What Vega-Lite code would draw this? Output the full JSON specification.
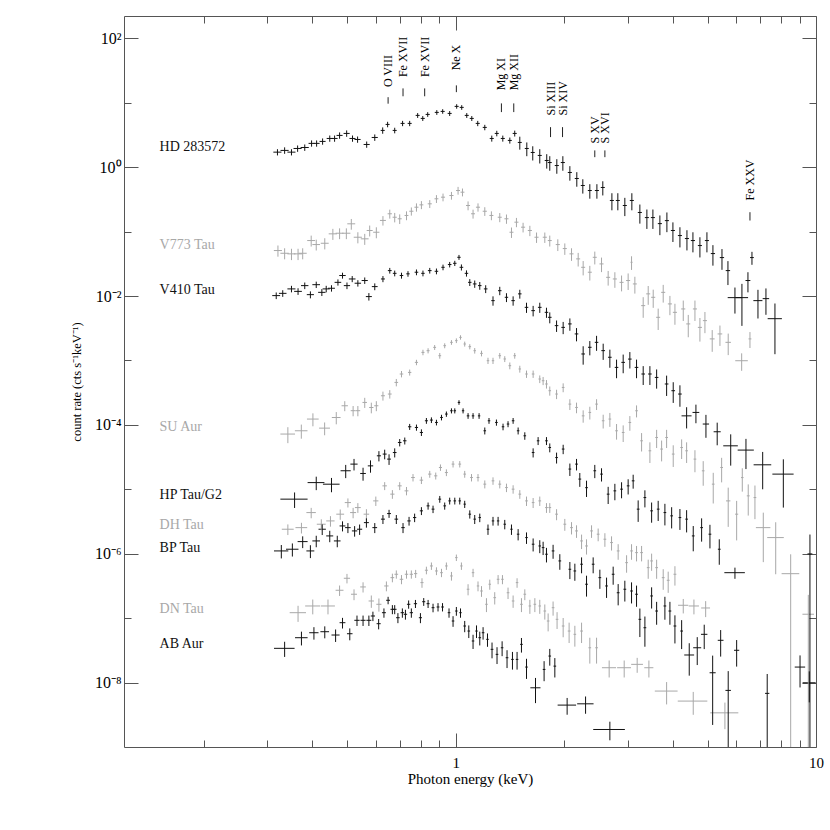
{
"$schema":"https://vega.github.io/schema/vega-lite/v6.json",
"width":692,"height":731,"autosize":"none",
"padding":{"left":124,"top":16,"right":14,"bottom":83},
"background":"white",
"config":{"view":{"stroke":null},
"axis":{"grid":false,"domainColor":"#555","tickColor":"#555","domainWidth":1,"tickWidth":1,"labelFont":"Liberation Serif","titleFont":"Liberation Serif","labelFontSize":15,"titleFontSize":15,"titleFontWeight":"normal","labelColor":"#000","titleColor":"#000","labelFlush":false,"labelOverlap":false,"labelBound":false},
"text":{"font":"Liberation Serif"}},
"datasets":{
"pts":[
{"s":"a","x":0.32,"y":1.71,"dx":0.0083,"dy":0.19},
{"s":"a","x":0.335,"y":1.82,"dx":0.0087,"dy":0.21},
{"s":"a","x":0.35,"y":1.71,"dx":0.009,"dy":0.19},
{"s":"a","x":0.364,"y":1.95,"dx":0.0094,"dy":0.22},
{"s":"a","x":0.381,"y":2.02,"dx":0.0099,"dy":0.23},
{"s":"a","x":0.398,"y":2.34,"dx":0.0077,"dy":0.26},
{"s":"a","x":0.411,"y":2.34,"dx":0.008,"dy":0.26},
{"s":"a","x":0.427,"y":2.51,"dx":0.0083,"dy":0.28},
{"s":"a","x":0.447,"y":2.79,"dx":0.0087,"dy":0.31},
{"s":"a","x":0.461,"y":2.79,"dx":0.009,"dy":0.31},
{"s":"a","x":0.476,"y":3.11,"dx":0.0092,"dy":0.35},
{"s":"a","x":0.498,"y":3.34,"dx":0.0097,"dy":0.38},
{"s":"a","x":0.517,"y":2.79,"dx":0.01,"dy":0.31},
{"s":"a","x":0.534,"y":2.69,"dx":0.0104,"dy":0.3},
{"s":"a","x":0.566,"y":2.25,"dx":0.011,"dy":0.25},
{"s":"a","x":0.596,"y":2.89,"dx":0.0116,"dy":0.33},
{"s":"a","x":0.627,"y":3.72,"dx":0.0081,"dy":0.42},
{"s":"a","x":0.647,"y":4.61,"dx":0.0083,"dy":0.45},
{"s":"a","x":0.677,"y":3.72,"dx":0.0087,"dy":0.37},
{"s":"a","x":0.712,"y":4.78,"dx":0.0092,"dy":0.45},
{"s":"a","x":0.745,"y":4.78,"dx":0.0096,"dy":0.45},
{"s":"a","x":0.784,"y":6.36,"dx":0.01,"dy":0.55},
{"s":"a","x":0.81,"y":5.71,"dx":0.0105,"dy":0.5},
{"s":"a","x":0.836,"y":6.59,"dx":0.011,"dy":0.55},
{"s":"a","x":0.886,"y":7.08,"dx":0.0114,"dy":0.6},
{"s":"a","x":0.92,"y":7.34,"dx":0.012,"dy":0.6},
{"s":"a","x":0.962,"y":6.83,"dx":0.0124,"dy":0.6},
{"s":"a","x":1.006,"y":8.78,"dx":0.013,"dy":0.7},
{"s":"a","x":1.039,"y":8.47,"dx":0.0134,"dy":0.7},
{"s":"a","x":1.073,"y":6.36,"dx":0.0138,"dy":0.55},
{"s":"a","x":1.108,"y":5.71,"dx":0.0143,"dy":0.5},
{"s":"a","x":1.151,"y":4.78,"dx":0.0148,"dy":0.45},
{"s":"a","x":1.204,"y":4.14,"dx":0.0155,"dy":0.4},
{"s":"a","x":1.259,"y":2.79,"dx":0.0162,"dy":0.3},
{"s":"a","x":1.3,"y":3.34,"dx":0.0168,"dy":0.33},
{"s":"a","x":1.351,"y":2.79,"dx":0.0174,"dy":0.3},
{"s":"a","x":1.413,"y":2.6,"dx":0.018,"dy":0.28},
{"s":"a","x":1.458,"y":3.34,"dx":0.019,"dy":0.35},
{"s":"a","x":1.506,"y":2.42,"dx":0.019,"dy":0.55},
{"s":"a","x":1.575,"y":1.95,"dx":0.02,"dy":0.47},
{"s":"a","x":1.636,"y":1.69,"dx":0.021,"dy":0.42},
{"s":"a","x":1.711,"y":1.52,"dx":0.022,"dy":0.38},
{"s":"a","x":1.789,"y":1.27,"dx":0.023,"dy":0.32},
{"s":"a","x":1.824,"y":1.18,"dx":0.023,"dy":0.3},
{"s":"a","x":1.908,"y":1.06,"dx":0.025,"dy":0.27},
{"s":"a","x":1.983,"y":1.18,"dx":0.026,"dy":0.3},
{"s":"a","x":2.074,"y":0.827,"dx":0.027,"dy":0.21},
{"s":"a","x":2.168,"y":0.667,"dx":0.028,"dy":0.17},
{"s":"a","x":2.253,"y":0.519,"dx":0.029,"dy":0.13},
{"s":"a","x":2.356,"y":0.434,"dx":0.03,"dy":0.11},
{"s":"a","x":2.465,"y":0.434,"dx":0.032,"dy":0.11},
{"s":"a","x":2.56,"y":0.484,"dx":0.033,"dy":0.12},
{"s":"a","x":2.713,"y":0.304,"dx":0.035,"dy":0.09},
{"s":"a","x":2.818,"y":0.304,"dx":0.036,"dy":0.09},
{"s":"a","x":2.947,"y":0.254,"dx":0.038,"dy":0.08},
{"s":"a","x":3.082,"y":0.304,"dx":0.04,"dy":0.09},
{"s":"a","x":3.244,"y":0.198,"dx":0.042,"dy":0.065},
{"s":"a","x":3.393,"y":0.165,"dx":0.044,"dy":0.055},
{"s":"a","x":3.526,"y":0.165,"dx":0.046,"dy":0.055},
{"s":"a","x":3.687,"y":0.133,"dx":0.048,"dy":0.045},
{"s":"a","x":3.856,"y":0.148,"dx":0.05,"dy":0.05},
{"s":"a","x":4.007,"y":0.104,"dx":0.052,"dy":0.035},
{"s":"a","x":4.191,"y":0.0868,"dx":0.054,"dy":0.03},
{"s":"a","x":4.383,"y":0.078,"dx":0.057,"dy":0.027},
{"s":"a","x":4.554,"y":0.0726,"dx":0.06,"dy":0.025},
{"s":"a","x":4.762,"y":0.0607,"dx":0.062,"dy":0.021},
{"s":"a","x":4.98,"y":0.0726,"dx":0.065,"dy":0.025},
{"s":"a","x":5.175,"y":0.0456,"dx":0.07,"dy":0.016},
{"s":"a","x":5.483,"y":0.0395,"dx":0.075,"dy":0.014},
{"s":"a","x":5.696,"y":0.0248,"dx":0.08,"dy":0.01},
{"s":"a","x":5.957,"y":0.00944,"dx":0.27,"dy":0.0041},
{"s":"a","x":6.229,"y":0.00944,"dx":0.25,"dy":0.006},
{"s":"a","x":6.473,"y":0.0174,"dx":0.1,"dy":0.006},
{"s":"a","x":6.641,"y":0.0395,"dx":0.08,"dy":0.009},
{"s":"a","x":6.901,"y":0.00848,"dx":0.2,"dy":0.004},
{"s":"a","x":7.262,"y":0.00911,"dx":0.15,"dy":0.004},
{"s":"a","x":7.692,"y":0.00445,"dx":0.35,"dy":0.0032},
{"s":"b","x":0.321,"y":0.0508,"dx":0.0083,"dy":0.01},
{"s":"b","x":0.335,"y":0.0461,"dx":0.009,"dy":0.009},
{"s":"b","x":0.35,"y":0.0451,"dx":0.009,"dy":0.009},
{"s":"b","x":0.365,"y":0.0451,"dx":0.0095,"dy":0.009},
{"s":"b","x":0.376,"y":0.0461,"dx":0.0098,"dy":0.009},
{"s":"b","x":0.397,"y":0.0726,"dx":0.01,"dy":0.014},
{"s":"b","x":0.41,"y":0.0629,"dx":0.01,"dy":0.012},
{"s":"b","x":0.433,"y":0.0659,"dx":0.011,"dy":0.013},
{"s":"b","x":0.456,"y":0.0923,"dx":0.012,"dy":0.018},
{"s":"b","x":0.476,"y":0.0943,"dx":0.012,"dy":0.018},
{"s":"b","x":0.497,"y":0.0943,"dx":0.013,"dy":0.018},
{"s":"b","x":0.513,"y":0.132,"dx":0.013,"dy":0.025},
{"s":"b","x":0.535,"y":0.0817,"dx":0.014,"dy":0.016},
{"s":"b","x":0.559,"y":0.0772,"dx":0.014,"dy":0.015},
{"s":"b","x":0.577,"y":0.104,"dx":0.011,"dy":0.02},
{"s":"b","x":0.602,"y":0.0977,"dx":0.012,"dy":0.019},
{"s":"b","x":0.628,"y":0.149,"dx":0.012,"dy":0.025},
{"s":"b","x":0.656,"y":0.189,"dx":0.009,"dy":0.03},
{"s":"b","x":0.677,"y":0.167,"dx":0.009,"dy":0.028},
{"s":"b","x":0.699,"y":0.158,"dx":0.009,"dy":0.027},
{"s":"b","x":0.73,"y":0.178,"dx":0.009,"dy":0.028},
{"s":"b","x":0.753,"y":0.207,"dx":0.01,"dy":0.03},
{"s":"b","x":0.778,"y":0.239,"dx":0.01,"dy":0.035},
{"s":"b","x":0.803,"y":0.26,"dx":0.01,"dy":0.037},
{"s":"b","x":0.847,"y":0.27,"dx":0.011,"dy":0.038},
{"s":"b","x":0.884,"y":0.323,"dx":0.011,"dy":0.045},
{"s":"b","x":0.922,"y":0.342,"dx":0.012,"dy":0.047},
{"s":"b","x":0.973,"y":0.363,"dx":0.013,"dy":0.05},
{"s":"b","x":1.015,"y":0.434,"dx":0.013,"dy":0.06},
{"s":"b","x":1.044,"y":0.409,"dx":0.013,"dy":0.057},
{"s":"b","x":1.082,"y":0.254,"dx":0.014,"dy":0.04},
{"s":"b","x":1.117,"y":0.189,"dx":0.014,"dy":0.03},
{"s":"b","x":1.153,"y":0.239,"dx":0.015,"dy":0.035},
{"s":"b","x":1.204,"y":0.207,"dx":0.016,"dy":0.032},
{"s":"b","x":1.256,"y":0.178,"dx":0.016,"dy":0.028},
{"s":"b","x":1.325,"y":0.167,"dx":0.017,"dy":0.027},
{"s":"b","x":1.383,"y":0.158,"dx":0.018,"dy":0.026},
{"s":"b","x":1.428,"y":0.0977,"dx":0.018,"dy":0.018},
{"s":"b","x":1.474,"y":0.14,"dx":0.019,"dy":0.023},
{"s":"b","x":1.538,"y":0.117,"dx":0.02,"dy":0.02},
{"s":"b","x":1.606,"y":0.104,"dx":0.021,"dy":0.019},
{"s":"b","x":1.676,"y":0.0817,"dx":0.022,"dy":0.015},
{"s":"b","x":1.767,"y":0.0817,"dx":0.023,"dy":0.015},
{"s":"b","x":1.824,"y":0.0726,"dx":0.023,"dy":0.014},
{"s":"b","x":1.92,"y":0.0629,"dx":0.025,"dy":0.013},
{"s":"b","x":2.008,"y":0.0545,"dx":0.026,"dy":0.011},
{"s":"b","x":2.096,"y":0.0451,"dx":0.027,"dy":0.01},
{"s":"b","x":2.187,"y":0.0377,"dx":0.028,"dy":0.009},
{"s":"b","x":2.258,"y":0.0279,"dx":0.029,"dy":0.007},
{"s":"b","x":2.356,"y":0.0234,"dx":0.03,"dy":0.006},
{"s":"b","x":2.432,"y":0.0399,"dx":0.031,"dy":0.009},
{"s":"b","x":2.539,"y":0.0315,"dx":0.033,"dy":0.008},
{"s":"b","x":2.649,"y":0.0195,"dx":0.034,"dy":0.005},
{"s":"b","x":2.765,"y":0.0184,"dx":0.036,"dy":0.005},
{"s":"b","x":2.886,"y":0.0163,"dx":0.037,"dy":0.0045},
{"s":"b","x":3.01,"y":0.0174,"dx":0.039,"dy":0.005},
{"s":"b","x":3.076,"y":0.0334,"dx":0.02,"dy":0.008},
{"s":"b","x":3.142,"y":0.0154,"dx":0.04,"dy":0.0045},
{"s":"b","x":3.314,"y":0.00709,"dx":0.043,"dy":0.0025},
{"s":"b","x":3.422,"y":0.0108,"dx":0.044,"dy":0.0035},
{"s":"b","x":3.533,"y":0.00955,"dx":0.046,"dy":0.003},
{"s":"b","x":3.647,"y":0.00467,"dx":0.047,"dy":0.0017},
{"s":"b","x":3.766,"y":0.0114,"dx":0.049,"dy":0.0035},
{"s":"b","x":3.931,"y":0.00754,"dx":0.051,"dy":0.0025},
{"s":"b","x":4.059,"y":0.00558,"dx":0.053,"dy":0.002},
{"s":"b","x":4.281,"y":0.0063,"dx":0.056,"dy":0.0022},
{"s":"b","x":4.42,"y":0.00369,"dx":0.057,"dy":0.0014},
{"s":"b","x":4.613,"y":0.0063,"dx":0.06,"dy":0.0022},
{"s":"b","x":4.762,"y":0.00326,"dx":0.062,"dy":0.0013},
{"s":"b","x":4.917,"y":0.00415,"dx":0.064,"dy":0.0015},
{"s":"b","x":5.151,"y":0.00216,"dx":0.08,"dy":0.0008},
{"s":"b","x":5.412,"y":0.00258,"dx":0.08,"dy":0.0009},
{"s":"b","x":5.706,"y":0.00191,"dx":0.1,"dy":0.0007},
{"s":"b","x":6.218,"y":0.00099,"dx":0.25,"dy":0.0003},
{"s":"b","x":6.557,"y":0.00216,"dx":0.06,"dy":0.0006},
{"s":"c","x":0.3175,"y":0.01015,"dx":0.008,"dy":0.0012},
{"s":"c","x":0.331,"y":0.011,"dx":0.008,"dy":0.0013},
{"s":"c","x":0.35,"y":0.0129,"dx":0.009,"dy":0.0015},
{"s":"c","x":0.365,"y":0.0118,"dx":0.009,"dy":0.0014},
{"s":"c","x":0.381,"y":0.0145,"dx":0.009,"dy":0.0017},
{"s":"c","x":0.395,"y":0.0105,"dx":0.009,"dy":0.0013},
{"s":"c","x":0.41,"y":0.015,"dx":0.01,"dy":0.0017},
{"s":"c","x":0.425,"y":0.0114,"dx":0.01,"dy":0.0014},
{"s":"c","x":0.437,"y":0.0129,"dx":0.01,"dy":0.0015},
{"s":"c","x":0.452,"y":0.0132,"dx":0.01,"dy":0.0015},
{"s":"c","x":0.471,"y":0.0163,"dx":0.01,"dy":0.0018},
{"s":"c","x":0.485,"y":0.0208,"dx":0.01,"dy":0.0022},
{"s":"c","x":0.499,"y":0.0145,"dx":0.01,"dy":0.0017},
{"s":"c","x":0.516,"y":0.0184,"dx":0.011,"dy":0.002},
{"s":"c","x":0.535,"y":0.0158,"dx":0.011,"dy":0.0018},
{"s":"c","x":0.559,"y":0.0174,"dx":0.011,"dy":0.002},
{"s":"c","x":0.574,"y":0.0098,"dx":0.011,"dy":0.0013},
{"s":"c","x":0.596,"y":0.014,"dx":0.011,"dy":0.0017},
{"s":"c","x":0.628,"y":0.0184,"dx":0.008,"dy":0.002},
{"s":"c","x":0.656,"y":0.0248,"dx":0.008,"dy":0.0025},
{"s":"c","x":0.677,"y":0.0225,"dx":0.008,"dy":0.0023},
{"s":"c","x":0.707,"y":0.0208,"dx":0.008,"dy":0.0022},
{"s":"c","x":0.737,"y":0.0221,"dx":0.008,"dy":0.0022},
{"s":"c","x":0.778,"y":0.0234,"dx":0.009,"dy":0.0024},
{"s":"c","x":0.811,"y":0.0225,"dx":0.009,"dy":0.0023},
{"s":"c","x":0.847,"y":0.0248,"dx":0.01,"dy":0.0025},
{"s":"c","x":0.884,"y":0.0242,"dx":0.01,"dy":0.0025},
{"s":"c","x":0.922,"y":0.0279,"dx":0.01,"dy":0.0028},
{"s":"c","x":0.962,"y":0.0308,"dx":0.011,"dy":0.003},
{"s":"c","x":0.994,"y":0.0322,"dx":0.011,"dy":0.003},
{"s":"c","x":1.021,"y":0.0399,"dx":0.011,"dy":0.0035},
{"s":"c","x":1.037,"y":0.0279,"dx":0.012,"dy":0.003},
{"s":"c","x":1.071,"y":0.0225,"dx":0.012,"dy":0.0025},
{"s":"c","x":1.094,"y":0.0163,"dx":0.012,"dy":0.002},
{"s":"c","x":1.129,"y":0.0154,"dx":0.013,"dy":0.002},
{"s":"c","x":1.166,"y":0.0145,"dx":0.013,"dy":0.002},
{"s":"c","x":1.211,"y":0.0129,"dx":0.014,"dy":0.0018},
{"s":"c","x":1.269,"y":0.00848,"dx":0.014,"dy":0.0014},
{"s":"c","x":1.325,"y":0.0121,"dx":0.015,"dy":0.0018},
{"s":"c","x":1.383,"y":0.00955,"dx":0.015,"dy":0.0015},
{"s":"c","x":1.443,"y":0.00848,"dx":0.016,"dy":0.0014},
{"s":"c","x":1.506,"y":0.0108,"dx":0.017,"dy":0.0017},
{"s":"c","x":1.572,"y":0.00667,"dx":0.018,"dy":0.0012},
{"s":"c","x":1.64,"y":0.00593,"dx":0.019,"dy":0.0011},
{"s":"c","x":1.711,"y":0.00667,"dx":0.02,"dy":0.0012},
{"s":"c","x":1.786,"y":0.00558,"dx":0.02,"dy":0.001},
{"s":"c","x":1.824,"y":0.00467,"dx":0.021,"dy":0.0009},
{"s":"c","x":1.905,"y":0.00347,"dx":0.022,"dy":0.0007},
{"s":"c","x":1.987,"y":0.00326,"dx":0.023,"dy":0.0007},
{"s":"c","x":2.074,"y":0.00369,"dx":0.024,"dy":0.0008},
{"s":"c","x":2.164,"y":0.00258,"dx":0.025,"dy":0.0006},
{"s":"c","x":2.258,"y":0.00126,"dx":0.026,"dy":0.0004},
{"s":"c","x":2.356,"y":0.0016,"dx":0.027,"dy":0.0004},
{"s":"c","x":2.46,"y":0.00191,"dx":0.028,"dy":0.0005},
{"s":"c","x":2.566,"y":0.00142,"dx":0.03,"dy":0.0004},
{"s":"c","x":2.678,"y":0.00112,"dx":0.031,"dy":0.00035},
{"s":"c","x":2.795,"y":0.00078,"dx":0.032,"dy":0.00025},
{"s":"c","x":2.916,"y":0.000933,"dx":0.034,"dy":0.0003},
{"s":"c","x":3.043,"y":0.00105,"dx":0.035,"dy":0.0003},
{"s":"c","x":3.176,"y":0.00078,"dx":0.037,"dy":0.00025},
{"s":"c","x":3.314,"y":0.000616,"dx":0.038,"dy":0.0002},
{"s":"c","x":3.459,"y":0.000616,"dx":0.04,"dy":0.0002},
{"s":"c","x":3.611,"y":0.000545,"dx":0.042,"dy":0.00018},
{"s":"c","x":3.849,"y":0.000431,"dx":0.045,"dy":0.00015},
{"s":"c","x":4.015,"y":0.000339,"dx":0.047,"dy":0.00012},
{"s":"c","x":4.191,"y":0.000301,"dx":0.049,"dy":0.00011},
{"s":"c","x":4.374,"y":0.000138,"dx":0.14,"dy":0.00005},
{"s":"c","x":4.642,"y":0.000156,"dx":0.1,"dy":0.00005},
{"s":"c","x":4.949,"y":0.000103,"dx":0.1,"dy":0.00004},
{"s":"c","x":5.318,"y":0.0000782,"dx":0.12,"dy":0.00003},
{"s":"c","x":5.798,"y":0.0000473,"dx":0.27,"dy":0.000024},
{"s":"c","x":6.391,"y":0.0000406,"dx":0.33,"dy":0.00002},
{"s":"c","x":7.112,"y":0.000024,"dx":0.4,"dy":0.000014},
{"s":"c","x":8.116,"y":0.0000172,"dx":0.55,"dy":0.000012},
{"s":"d","x":0.342,"y":7.2e-5,"dx":0.016,"dy":2e-5},
{"s":"d","x":0.3727,"y":8.1e-5,"dx":0.015,"dy":2e-5},
{"s":"d","x":0.4014,"y":1.23e-4,"dx":0.015,"dy":2.8e-5},
{"s":"d","x":0.4326,"y":8.9e-5,"dx":0.015,"dy":2e-5},
{"s":"d","x":0.466,"y":1.3e-4,"dx":0.013,"dy":2.8e-5},
{"s":"d","x":0.492,"y":1.98e-4,"dx":0.01,"dy":3.5e-5},
{"s":"d","x":0.519,"y":1.66e-4,"dx":0.008,"dy":3e-5},
{"s":"d","x":0.535,"y":1.66e-4,"dx":0.008,"dy":3e-5},
{"s":"d","x":0.559,"y":2.23e-4,"dx":0.008,"dy":4e-5},
{"s":"d","x":0.583,"y":1.86e-4,"dx":0.008,"dy":3.5e-5},
{"s":"d","x":0.602,"y":1.98e-4,"dx":0.008,"dy":3.5e-5},
{"s":"d","x":0.628,"y":2.83e-4,"dx":0.008,"dy":4.5e-5},
{"s":"d","x":0.656,"y":3.01e-4,"dx":0.008,"dy":4.5e-5},
{"s":"d","x":0.684,"y":4.56e-4,"dx":0.008,"dy":6e-5},
{"s":"d","x":0.707,"y":6.16e-4,"dx":0.008,"dy":7e-5},
{"s":"d","x":0.745,"y":6.52e-4,"dx":0.008,"dy":7e-5},
{"s":"d","x":0.778,"y":9.33e-4,"dx":0.008,"dy":9e-5},
{"s":"d","x":0.811,"y":1.334e-3,"dx":0.008,"dy":1.3e-4},
{"s":"d","x":0.838,"y":1.417e-3,"dx":0.008,"dy":1.3e-4},
{"s":"d","x":0.874,"y":1.595e-3,"dx":0.008,"dy":1.4e-4},
{"s":"d","x":0.903,"y":1.185e-3,"dx":0.008,"dy":1.2e-4},
{"s":"d","x":0.932,"y":1.695e-3,"dx":0.008,"dy":1.5e-4},
{"s":"d","x":0.973,"y":1.908e-3,"dx":0.008,"dy":1.6e-4},
{"s":"d","x":1.004,"y":2.03e-3,"dx":0.008,"dy":1.7e-4},
{"s":"d","x":1.031,"y":2.28e-3,"dx":0.008,"dy":1.8e-4},
{"s":"d","x":1.059,"y":1.8e-3,"dx":0.008,"dy":1.6e-4},
{"s":"d","x":1.094,"y":1.636e-3,"dx":0.009,"dy":1.5e-4},
{"s":"d","x":1.129,"y":1.417e-3,"dx":0.009,"dy":1.4e-4},
{"s":"d","x":1.179,"y":1.287e-3,"dx":0.01,"dy":1.3e-4},
{"s":"d","x":1.229,"y":9.91e-4,"dx":0.01,"dy":1.1e-4},
{"s":"d","x":1.269,"y":9.91e-4,"dx":0.01,"dy":1.1e-4},
{"s":"d","x":1.325,"y":1.185e-3,"dx":0.011,"dy":1.2e-4},
{"s":"d","x":1.368,"y":1.054e-3,"dx":0.011,"dy":1.1e-4},
{"s":"d","x":1.413,"y":8.29e-4,"dx":0.012,"dy":1e-4},
{"s":"d","x":1.458,"y":1.185e-3,"dx":0.012,"dy":1.2e-4},
{"s":"d","x":1.506,"y":7.37e-4,"dx":0.012,"dy":9e-5},
{"s":"d","x":1.572,"y":6.16e-4,"dx":0.013,"dy":8e-5},
{"s":"d","x":1.64,"y":6.16e-4,"dx":0.014,"dy":8e-5},
{"s":"d","x":1.711,"y":5.15e-4,"dx":0.014,"dy":7e-5},
{"s":"d","x":1.748,"y":4.84e-4,"dx":0.015,"dy":7e-5},
{"s":"d","x":1.786,"y":4.31e-4,"dx":0.015,"dy":6.5e-5},
{"s":"d","x":1.824,"y":3.39e-4,"dx":0.015,"dy":5.5e-5},
{"s":"d","x":1.905,"y":3.01e-4,"dx":0.016,"dy":5e-5},
{"s":"d","x":1.987,"y":3.81e-4,"dx":0.017,"dy":6e-5},
{"s":"d","x":2.074,"y":2.1e-4,"dx":0.018,"dy":4e-5},
{"s":"d","x":2.164,"y":1.864e-4,"dx":0.019,"dy":3.5e-5},
{"s":"d","x":2.258,"y":1.38e-4,"dx":0.02,"dy":3e-5},
{"s":"d","x":2.356,"y":1.56e-4,"dx":0.02,"dy":3.5e-5},
{"s":"d","x":2.46,"y":2.1e-4,"dx":0.021,"dy":4e-5},
{"s":"d","x":2.566,"y":1.158e-4,"dx":0.022,"dy":2.8e-5},
{"s":"d","x":2.678,"y":1.231e-4,"dx":0.023,"dy":3e-5},
{"s":"d","x":2.795,"y":8.1e-5,"dx":0.024,"dy":2.2e-5},
{"s":"d","x":2.916,"y":7.62e-5,"dx":0.025,"dy":2.2e-5},
{"s":"d","x":3.043,"y":1.09e-4,"dx":0.026,"dy":2.8e-5},
{"s":"d","x":3.176,"y":1.656e-4,"dx":0.027,"dy":3.5e-5},
{"s":"d","x":3.28,"y":5.66e-5,"dx":0.028,"dy":1.8e-5},
{"s":"d","x":3.459,"y":3.96e-5,"dx":0.03,"dy":1.4e-5},
{"s":"d","x":3.611,"y":6.37e-5,"dx":0.031,"dy":2e-5},
{"s":"d","x":3.728,"y":4.21e-5,"dx":0.032,"dy":1.5e-5},
{"s":"d","x":3.849,"y":6.37e-5,"dx":0.033,"dy":2e-5},
{"s":"d","x":4.015,"y":3.52e-5,"dx":0.035,"dy":1.3e-5},
{"s":"d","x":4.237,"y":4.45e-5,"dx":0.036,"dy":1.5e-5},
{"s":"d","x":4.374,"y":3.96e-5,"dx":0.038,"dy":1.4e-5},
{"s":"d","x":4.613,"y":2.94e-5,"dx":0.04,"dy":1.1e-5},
{"s":"d","x":4.863,"y":1.935e-5,"dx":0.042,"dy":8e-6},
{"s":"d","x":5.185,"y":1.202e-5,"dx":0.045,"dy":6e-6},
{"s":"d","x":5.471,"y":2.18e-5,"dx":0.047,"dy":9e-6},
{"s":"d","x":5.706,"y":6.61e-6,"dx":0.08,"dy":4e-6},
{"s":"d","x":6.022,"y":4.11e-6,"dx":0.06,"dy":2.5e-6},
{"s":"d","x":6.243,"y":1.52e-5,"dx":0.05,"dy":6e-6},
{"s":"d","x":6.485,"y":7.91e-6,"dx":0.06,"dy":4e-6},
{"s":"d","x":6.769,"y":7.44e-6,"dx":0.06,"dy":4e-6},
{"s":"d","x":7.14,"y":2.54e-6,"dx":0.33,"dy":1.8e-6},
{"s":"d","x":7.73,"y":1.78e-6,"dx":0.41,"dy":1.3e-6},
{"s":"d","x":8.506,"y":4.9e-7,"dx":0.48,"dy":4.895e-7},
{"s":"d","x":9.52,"y":1.15e-7,"dx":0.35,"dy":1.149e-7},
{"s":"e","x":0.357,"y":7.03e-6,"dx":0.031,"dy":1.9e-6},
{"s":"e","x":0.41,"y":1.27e-5,"dx":0.022,"dy":3e-6},
{"s":"e","x":0.452,"y":1.2e-5,"dx":0.024,"dy":3e-6},
{"s":"e","x":0.495,"y":1.94e-5,"dx":0.016,"dy":4.5e-6},
{"s":"e","x":0.522,"y":2.46e-5,"dx":0.012,"dy":5e-6},
{"s":"e","x":0.553,"y":1.76e-5,"dx":0.01,"dy":4e-6},
{"s":"e","x":0.58,"y":2.31e-5,"dx":0.01,"dy":5e-6},
{"s":"e","x":0.612,"y":3.31e-5,"dx":0.008,"dy":6e-6},
{"s":"e","x":0.635,"y":3.52e-5,"dx":0.008,"dy":6e-6},
{"s":"e","x":0.653,"y":2.94e-5,"dx":0.008,"dy":5.5e-6},
{"s":"e","x":0.677,"y":3.72e-5,"dx":0.008,"dy":6e-6},
{"s":"e","x":0.699,"y":5.33e-5,"dx":0.008,"dy":7e-6},
{"s":"e","x":0.722,"y":5.66e-5,"dx":0.008,"dy":7e-6},
{"s":"e","x":0.745,"y":9.34e-5,"dx":0.008,"dy":1e-5},
{"s":"e","x":0.778,"y":9.11e-5,"dx":0.008,"dy":1e-5},
{"s":"e","x":0.803,"y":7.62e-5,"dx":0.008,"dy":9e-6},
{"s":"e","x":0.829,"y":1.158e-4,"dx":0.008,"dy":1.2e-5},
{"s":"e","x":0.856,"y":1.187e-4,"dx":0.008,"dy":1.2e-5},
{"s":"e","x":0.884,"y":1.09e-4,"dx":0.008,"dy":1.1e-5},
{"s":"e","x":0.913,"y":1.303e-4,"dx":0.008,"dy":1.3e-5},
{"s":"e","x":0.942,"y":1.472e-4,"dx":0.008,"dy":1.4e-5},
{"s":"e","x":0.973,"y":1.656e-4,"dx":0.008,"dy":1.5e-5},
{"s":"e","x":0.994,"y":1.656e-4,"dx":0.008,"dy":1.5e-5},
{"s":"e","x":1.021,"y":2.23e-4,"dx":0.008,"dy":1.8e-5},
{"s":"e","x":1.048,"y":1.656e-4,"dx":0.008,"dy":1.5e-5},
{"s":"e","x":1.082,"y":1.38e-4,"dx":0.009,"dy":1.4e-5},
{"s":"e","x":1.117,"y":1.38e-4,"dx":0.009,"dy":1.4e-5},
{"s":"e","x":1.161,"y":1.38e-4,"dx":0.009,"dy":1.4e-5},
{"s":"e","x":1.204,"y":8.1e-5,"dx":0.01,"dy":1e-5},
{"s":"e","x":1.237,"y":1.158e-4,"dx":0.01,"dy":1.2e-5},
{"s":"e","x":1.297,"y":1.09e-4,"dx":0.011,"dy":1.2e-5},
{"s":"e","x":1.353,"y":9.34e-5,"dx":0.011,"dy":1.1e-5},
{"s":"e","x":1.397,"y":1.03e-4,"dx":0.011,"dy":1.1e-5},
{"s":"e","x":1.443,"y":1.158e-4,"dx":0.012,"dy":1.2e-5},
{"s":"e","x":1.49,"y":8.1e-5,"dx":0.012,"dy":1e-5},
{"s":"e","x":1.555,"y":6.77e-5,"dx":0.013,"dy":9e-6},
{"s":"e","x":1.64,"y":3.72e-5,"dx":0.014,"dy":6e-6},
{"s":"e","x":1.693,"y":5.66e-5,"dx":0.014,"dy":8e-6},
{"s":"e","x":1.786,"y":5.66e-5,"dx":0.015,"dy":8e-6},
{"s":"e","x":1.824,"y":4.45e-5,"dx":0.015,"dy":7e-6},
{"s":"e","x":1.905,"y":3.11e-5,"dx":0.016,"dy":6e-6},
{"s":"e","x":1.987,"y":4.21e-5,"dx":0.017,"dy":7e-6},
{"s":"e","x":2.074,"y":2.06e-5,"dx":0.018,"dy":4.5e-6},
{"s":"e","x":2.164,"y":2.46e-5,"dx":0.019,"dy":5e-6},
{"s":"e","x":2.21,"y":1.44e-5,"dx":0.02,"dy":3.5e-6},
{"s":"e","x":2.307,"y":1.06e-5,"dx":0.02,"dy":3e-6},
{"s":"e","x":2.432,"y":1.94e-5,"dx":0.021,"dy":4.5e-6},
{"s":"e","x":2.539,"y":1.72e-5,"dx":0.022,"dy":4e-6},
{"s":"e","x":2.649,"y":8.41e-6,"dx":0.023,"dy":2.5e-6},
{"s":"e","x":2.765,"y":9.46e-6,"dx":0.024,"dy":2.7e-6},
{"s":"e","x":2.886,"y":1.005e-5,"dx":0.025,"dy":2.8e-6},
{"s":"e","x":3.01,"y":1.131e-5,"dx":0.026,"dy":3e-6},
{"s":"e","x":3.108,"y":1.353e-5,"dx":0.027,"dy":3.3e-6},
{"s":"e","x":3.209,"y":4.92e-6,"dx":0.028,"dy":1.8e-6},
{"s":"e","x":3.35,"y":7.44e-6,"dx":0.029,"dy":2.2e-6},
{"s":"e","x":3.497,"y":4.63e-6,"dx":0.03,"dy":1.6e-6},
{"s":"e","x":3.647,"y":4.92e-6,"dx":0.031,"dy":1.7e-6},
{"s":"e","x":3.807,"y":4.35e-6,"dx":0.033,"dy":1.6e-6},
{"s":"e","x":3.975,"y":3.87e-6,"dx":0.035,"dy":1.4e-6},
{"s":"e","x":4.191,"y":3.64e-6,"dx":0.036,"dy":1.3e-6},
{"s":"e","x":4.374,"y":3.44e-6,"dx":0.038,"dy":1.3e-6},
{"s":"e","x":4.563,"y":1.89e-6,"dx":0.04,"dy":8e-7},
{"s":"e","x":4.814,"y":2.54e-6,"dx":0.042,"dy":1e-6},
{"s":"e","x":5.077,"y":2.01e-6,"dx":0.045,"dy":8e-7},
{"s":"e","x":5.389,"y":1.174e-6,"dx":0.048,"dy":5e-7},
{"s":"e","x":5.957,"y":5.08e-7,"dx":0.39,"dy":1e-7},
{"s":"e","x":9.62,"y":9.93e-7,"dx":0.15,"dy":9.92e-7},
{"s":"f","x":0.342,"y":2.4e-6,"dx":0.013,"dy":4.5e-7},
{"s":"f","x":0.373,"y":2.54e-6,"dx":0.014,"dy":4.8e-7},
{"s":"f","x":0.397,"y":4.35e-6,"dx":0.012,"dy":8e-7},
{"s":"f","x":0.4235,"y":2.87e-6,"dx":0.012,"dy":5.5e-7},
{"s":"f","x":0.449,"y":3.23e-6,"dx":0.012,"dy":6e-7},
{"s":"f","x":0.478,"y":4.11e-6,"dx":0.012,"dy":7.5e-7},
{"s":"f","x":0.502,"y":6.22e-6,"dx":0.01,"dy":1e-6},
{"s":"f","x":0.519,"y":4.35e-6,"dx":0.01,"dy":8e-7},
{"s":"f","x":0.535,"y":5.2e-6,"dx":0.01,"dy":9e-7},
{"s":"f","x":0.565,"y":4.11e-6,"dx":0.01,"dy":8e-7},
{"s":"f","x":0.6,"y":6.61e-6,"dx":0.01,"dy":1.1e-6},
{"s":"f","x":0.635,"y":1.131e-5,"dx":0.009,"dy":1.6e-6},
{"s":"f","x":0.667,"y":8.41e-6,"dx":0.009,"dy":1.3e-6},
{"s":"f","x":0.699,"y":1.131e-5,"dx":0.009,"dy":1.6e-6},
{"s":"f","x":0.73,"y":9.46e-6,"dx":0.009,"dy":1.4e-6},
{"s":"f","x":0.761,"y":1.523e-5,"dx":0.009,"dy":2e-6},
{"s":"f","x":0.803,"y":1.387e-5,"dx":0.009,"dy":1.8e-6},
{"s":"f","x":0.847,"y":1.72e-5,"dx":0.009,"dy":2.1e-6},
{"s":"f","x":0.88,"y":1.618e-5,"dx":0.009,"dy":2e-6},
{"s":"f","x":0.907,"y":2.18e-5,"dx":0.009,"dy":2.5e-6},
{"s":"f","x":0.942,"y":1.82e-5,"dx":0.009,"dy":2.2e-6},
{"s":"f","x":0.983,"y":2.46e-5,"dx":0.009,"dy":2.8e-6},
{"s":"f","x":1.026,"y":2.46e-5,"dx":0.009,"dy":2.8e-6},
{"s":"f","x":1.059,"y":1.72e-5,"dx":0.009,"dy":2.1e-6},
{"s":"f","x":1.106,"y":1.523e-5,"dx":0.01,"dy":2e-6},
{"s":"f","x":1.153,"y":1.523e-5,"dx":0.01,"dy":2e-6},
{"s":"f","x":1.204,"y":1.202e-5,"dx":0.011,"dy":1.7e-6},
{"s":"f","x":1.269,"y":1.353e-5,"dx":0.011,"dy":1.8e-6},
{"s":"f","x":1.325,"y":1.202e-5,"dx":0.012,"dy":1.7e-6},
{"s":"f","x":1.383,"y":1.064e-5,"dx":0.012,"dy":1.6e-6},
{"s":"f","x":1.443,"y":1.005e-5,"dx":0.013,"dy":1.5e-6},
{"s":"f","x":1.506,"y":8.41e-6,"dx":0.013,"dy":1.3e-6},
{"s":"f","x":1.572,"y":6.61e-6,"dx":0.014,"dy":1.1e-6},
{"s":"f","x":1.64,"y":6.22e-6,"dx":0.014,"dy":1.1e-6},
{"s":"f","x":1.711,"y":6.61e-6,"dx":0.015,"dy":1.1e-6},
{"s":"f","x":1.786,"y":5.2e-6,"dx":0.016,"dy":9e-7},
{"s":"f","x":1.824,"y":5.2e-6,"dx":0.016,"dy":9e-7},
{"s":"f","x":1.905,"y":4.11e-6,"dx":0.017,"dy":8e-7},
{"s":"f","x":2.008,"y":2.87e-6,"dx":0.018,"dy":6e-7},
{"s":"f","x":2.096,"y":2.54e-6,"dx":0.019,"dy":5.5e-7},
{"s":"f","x":2.164,"y":2.26e-6,"dx":0.02,"dy":5e-7},
{"s":"f","x":2.235,"y":1.58e-6,"dx":0.02,"dy":4e-7},
{"s":"f","x":2.307,"y":1.32e-6,"dx":0.021,"dy":3.5e-7},
{"s":"f","x":2.382,"y":2.26e-6,"dx":0.021,"dy":5e-7},
{"s":"f","x":2.485,"y":2.01e-6,"dx":0.022,"dy":4.5e-7},
{"s":"f","x":2.594,"y":1.68e-6,"dx":0.023,"dy":4e-7},
{"s":"f","x":2.707,"y":1.49e-6,"dx":0.024,"dy":3.7e-7},
{"s":"f","x":2.824,"y":1.105e-6,"dx":0.025,"dy":3e-7},
{"s":"f","x":2.98,"y":7.27e-7,"dx":0.026,"dy":2.2e-7},
{"s":"f","x":3.076,"y":1.105e-6,"dx":0.027,"dy":3e-7},
{"s":"f","x":3.176,"y":1.04e-6,"dx":0.028,"dy":2.8e-7},
{"s":"f","x":3.28,"y":1.04e-6,"dx":0.029,"dy":2.8e-7},
{"s":"f","x":3.422,"y":6.08e-7,"dx":0.03,"dy":2e-7},
{"s":"f","x":3.497,"y":7.73e-7,"dx":0.031,"dy":2.3e-7},
{"s":"f","x":3.611,"y":6.08e-7,"dx":0.032,"dy":2e-7},
{"s":"f","x":3.766,"y":4.25e-7,"dx":0.034,"dy":1.5e-7},
{"s":"f","x":3.888,"y":3.87e-7,"dx":0.035,"dy":1.4e-7},
{"s":"f","x":4.059,"y":4.8e-7,"dx":0.037,"dy":1.6e-7},
{"s":"f","x":4.281,"y":1.584e-7,"dx":0.14,"dy":4e-8},
{"s":"f","x":4.583,"y":1.545e-7,"dx":0.15,"dy":4e-8},
{"s":"f","x":4.94,"y":1.438e-7,"dx":0.14,"dy":4e-8},
{"s":"g","x":0.328,"y":1.105e-6,"dx":0.015,"dy":2.6e-7},
{"s":"g","x":0.352,"y":1.174e-6,"dx":0.014,"dy":2.7e-7},
{"s":"g","x":0.376,"y":1.542e-6,"dx":0.012,"dy":3.2e-7},
{"s":"g","x":0.395,"y":1.105e-6,"dx":0.01,"dy":2.5e-7},
{"s":"g","x":0.41,"y":1.58e-6,"dx":0.01,"dy":3.2e-7},
{"s":"g","x":0.426,"y":2.4e-6,"dx":0.01,"dy":4.5e-7},
{"s":"g","x":0.447,"y":1.89e-6,"dx":0.01,"dy":3.8e-7},
{"s":"g","x":0.469,"y":1.58e-6,"dx":0.01,"dy":3.2e-7},
{"s":"g","x":0.485,"y":2.7e-6,"dx":0.009,"dy":4.8e-7},
{"s":"g","x":0.502,"y":2.54e-6,"dx":0.009,"dy":4.5e-7},
{"s":"g","x":0.524,"y":2.26e-6,"dx":0.009,"dy":4.2e-7},
{"s":"g","x":0.541,"y":2.4e-6,"dx":0.009,"dy":4.4e-7},
{"s":"g","x":0.565,"y":3.04e-6,"dx":0.009,"dy":5e-7},
{"s":"g","x":0.596,"y":2.54e-6,"dx":0.009,"dy":4.5e-7},
{"s":"g","x":0.628,"y":3.44e-6,"dx":0.008,"dy":5.5e-7},
{"s":"g","x":0.653,"y":4.2e-6,"dx":0.008,"dy":6e-7},
{"s":"g","x":0.684,"y":3.44e-6,"dx":0.008,"dy":5.5e-7},
{"s":"g","x":0.714,"y":2.54e-6,"dx":0.008,"dy":4.5e-7},
{"s":"g","x":0.742,"y":3.23e-6,"dx":0.008,"dy":5e-7},
{"s":"g","x":0.769,"y":3.64e-6,"dx":0.008,"dy":5.5e-7},
{"s":"g","x":0.803,"y":4.63e-6,"dx":0.008,"dy":6.5e-7},
{"s":"g","x":0.838,"y":5.53e-6,"dx":0.008,"dy":7e-7},
{"s":"g","x":0.865,"y":4.92e-6,"dx":0.008,"dy":6.5e-7},
{"s":"g","x":0.903,"y":7.03e-6,"dx":0.008,"dy":8.5e-7},
{"s":"g","x":0.932,"y":5.53e-6,"dx":0.008,"dy":7e-7},
{"s":"g","x":0.962,"y":6.61e-6,"dx":0.008,"dy":8e-7},
{"s":"g","x":0.994,"y":6.61e-6,"dx":0.008,"dy":8e-7},
{"s":"g","x":1.026,"y":6.61e-6,"dx":0.008,"dy":8e-7},
{"s":"g","x":1.059,"y":5.88e-6,"dx":0.008,"dy":7.5e-7},
{"s":"g","x":1.094,"y":4.11e-6,"dx":0.009,"dy":6e-7},
{"s":"g","x":1.129,"y":3.44e-6,"dx":0.009,"dy":5.5e-7},
{"s":"g","x":1.166,"y":3.64e-6,"dx":0.009,"dy":5.5e-7},
{"s":"g","x":1.229,"y":2.4e-6,"dx":0.01,"dy":4.4e-7},
{"s":"g","x":1.269,"y":3.23e-6,"dx":0.01,"dy":5e-7},
{"s":"g","x":1.311,"y":3.23e-6,"dx":0.01,"dy":5e-7},
{"s":"g","x":1.368,"y":2.87e-6,"dx":0.011,"dy":4.8e-7},
{"s":"g","x":1.428,"y":2.4e-6,"dx":0.011,"dy":4.4e-7},
{"s":"g","x":1.49,"y":2.01e-6,"dx":0.012,"dy":4e-7},
{"s":"g","x":1.572,"y":1.78e-6,"dx":0.013,"dy":3.6e-7},
{"s":"g","x":1.64,"y":1.405e-6,"dx":0.014,"dy":3.2e-7},
{"s":"g","x":1.711,"y":1.32e-6,"dx":0.014,"dy":3e-7},
{"s":"g","x":1.748,"y":1.244e-6,"dx":0.015,"dy":2.9e-7},
{"s":"g","x":1.786,"y":9.82e-7,"dx":0.015,"dy":2.5e-7},
{"s":"g","x":1.863,"y":1.105e-6,"dx":0.016,"dy":2.7e-7},
{"s":"g","x":1.945,"y":7.73e-7,"dx":0.017,"dy":2.1e-7},
{"s":"g","x":2.074,"y":5.74e-7,"dx":0.018,"dy":1.7e-7},
{"s":"g","x":2.141,"y":5.4e-7,"dx":0.018,"dy":1.6e-7},
{"s":"g","x":2.235,"y":6.87e-7,"dx":0.019,"dy":1.9e-7},
{"s":"g","x":2.307,"y":3.36e-7,"dx":0.02,"dy":1.2e-7},
{"s":"g","x":2.407,"y":6.87e-7,"dx":0.021,"dy":1.9e-7},
{"s":"g","x":2.512,"y":4.25e-7,"dx":0.022,"dy":1.4e-7},
{"s":"g","x":2.622,"y":3.16e-7,"dx":0.023,"dy":1.1e-7},
{"s":"g","x":2.735,"y":4.8e-7,"dx":0.024,"dy":1.5e-7},
{"s":"g","x":2.824,"y":2.48e-7,"dx":0.025,"dy":9e-8},
{"s":"g","x":2.947,"y":2.81e-7,"dx":0.026,"dy":1e-7},
{"s":"g","x":3.076,"y":2.64e-7,"dx":0.027,"dy":9.5e-8},
{"s":"g","x":3.176,"y":2.35e-7,"dx":0.028,"dy":8.5e-8},
{"s":"g","x":3.244,"y":9.59e-8,"dx":0.028,"dy":4.5e-8},
{"s":"g","x":3.35,"y":7.1e-8,"dx":0.03,"dy":3.5e-8},
{"s":"g","x":3.497,"y":2.21e-7,"dx":0.03,"dy":8e-8},
{"s":"g","x":3.611,"y":1.29e-7,"dx":0.032,"dy":5e-8},
{"s":"g","x":3.807,"y":1.545e-7,"dx":0.033,"dy":6e-8},
{"s":"g","x":3.931,"y":1.29e-7,"dx":0.035,"dy":5e-8},
{"s":"g","x":4.059,"y":7.55e-8,"dx":0.036,"dy":3.5e-8},
{"s":"g","x":4.237,"y":6.31e-8,"dx":0.037,"dy":3e-8},
{"s":"g","x":4.448,"y":2.68e-8,"dx":0.14,"dy":1.4e-8},
{"s":"g","x":4.681,"y":3.47e-8,"dx":0.12,"dy":1.6e-8},
{"s":"g","x":4.895,"y":5.61e-8,"dx":0.1,"dy":2.3e-8},
{"s":"g","x":5.166,"y":1.42e-8,"dx":0.1,"dy":1.2e-8},
{"s":"g","x":5.437,"y":4.53e-8,"dx":0.1,"dy":2e-8},
{"s":"g","x":5.706,"y":7.56e-9,"dx":0.1,"dy":7.5e-9},
{"s":"g","x":6.022,"y":3.17e-8,"dx":0.1,"dy":1.4e-8},
{"s":"g","x":7.321,"y":6.8e-9,"dx":0.1,"dy":6.79e-9},
{"s":"g","x":9.03,"y":1.74e-8,"dx":0.3,"dy":9e-9},
{"s":"h","x":0.365,"y":1.215e-7,"dx":0.019,"dy":3.4e-8},
{"s":"h","x":0.401,"y":1.545e-7,"dx":0.019,"dy":4e-8},
{"s":"h","x":0.442,"y":1.545e-7,"dx":0.02,"dy":4e-8},
{"s":"h","x":0.476,"y":2.71e-7,"dx":0.012,"dy":5e-8},
{"s":"h","x":0.499,"y":4.16e-7,"dx":0.01,"dy":7e-8},
{"s":"h","x":0.522,"y":2.35e-7,"dx":0.01,"dy":4.5e-8},
{"s":"h","x":0.553,"y":3.05e-7,"dx":0.01,"dy":5.5e-8},
{"s":"h","x":0.583,"y":1.846e-7,"dx":0.01,"dy":4e-8},
{"s":"h","x":0.612,"y":1.641e-7,"dx":0.01,"dy":3.8e-8},
{"s":"h","x":0.642,"y":3.16e-7,"dx":0.009,"dy":5.5e-8},
{"s":"h","x":0.667,"y":4.25e-7,"dx":0.008,"dy":6.5e-8},
{"s":"h","x":0.684,"y":4.8e-7,"dx":0.008,"dy":7e-8},
{"s":"h","x":0.707,"y":4.01e-7,"dx":0.008,"dy":6.5e-8},
{"s":"h","x":0.73,"y":4.8e-7,"dx":0.008,"dy":7e-8},
{"s":"h","x":0.753,"y":4.8e-7,"dx":0.008,"dy":7e-8},
{"s":"h","x":0.774,"y":4.91e-7,"dx":0.008,"dy":7e-8},
{"s":"h","x":0.806,"y":3.56e-7,"dx":0.008,"dy":6e-8},
{"s":"h","x":0.829,"y":5.54e-7,"dx":0.008,"dy":7.5e-8},
{"s":"h","x":0.856,"y":6.46e-7,"dx":0.008,"dy":8.5e-8},
{"s":"h","x":0.884,"y":5.4e-7,"dx":0.008,"dy":7.5e-8},
{"s":"h","x":0.913,"y":5.08e-7,"dx":0.008,"dy":7.5e-8},
{"s":"h","x":0.942,"y":6.46e-7,"dx":0.008,"dy":8.5e-8},
{"s":"h","x":0.973,"y":4.52e-7,"dx":0.008,"dy":7e-8},
{"s":"h","x":1.004,"y":8.7e-7,"dx":0.008,"dy":1e-7},
{"s":"h","x":1.037,"y":6.46e-7,"dx":0.008,"dy":8.5e-8},
{"s":"h","x":1.082,"y":2.81e-7,"dx":0.009,"dy":5.5e-8},
{"s":"h","x":1.117,"y":5.08e-7,"dx":0.009,"dy":7.5e-8},
{"s":"h","x":1.153,"y":3.16e-7,"dx":0.009,"dy":5.5e-8},
{"s":"h","x":1.179,"y":2.64e-7,"dx":0.01,"dy":5e-8},
{"s":"h","x":1.217,"y":1.641e-7,"dx":0.01,"dy":4e-8},
{"s":"h","x":1.243,"y":3.36e-7,"dx":0.01,"dy":6e-8},
{"s":"h","x":1.283,"y":2.08e-7,"dx":0.011,"dy":4.5e-8},
{"s":"h","x":1.311,"y":4.01e-7,"dx":0.011,"dy":6.5e-8},
{"s":"h","x":1.348,"y":4.01e-7,"dx":0.011,"dy":6.5e-8},
{"s":"h","x":1.397,"y":2.48e-7,"dx":0.012,"dy":5e-8},
{"s":"h","x":1.443,"y":1.846e-7,"dx":0.012,"dy":4e-8},
{"s":"h","x":1.48,"y":3.56e-7,"dx":0.012,"dy":6e-8},
{"s":"h","x":1.522,"y":1.641e-7,"dx":0.013,"dy":4e-8},
{"s":"h","x":1.555,"y":2.35e-7,"dx":0.013,"dy":4.5e-8},
{"s":"h","x":1.606,"y":1.545e-7,"dx":0.013,"dy":3.8e-8},
{"s":"h","x":1.658,"y":1.641e-7,"dx":0.014,"dy":4e-8},
{"s":"h","x":1.711,"y":1.545e-7,"dx":0.014,"dy":3.8e-8},
{"s":"h","x":1.767,"y":1.29e-7,"dx":0.015,"dy":3.4e-8},
{"s":"h","x":1.805,"y":9.03e-8,"dx":0.015,"dy":2.8e-8},
{"s":"h","x":1.863,"y":1.453e-7,"dx":0.016,"dy":3.6e-8},
{"s":"h","x":1.911,"y":9.59e-8,"dx":0.016,"dy":2.8e-8},
{"s":"h","x":1.987,"y":7.55e-8,"dx":0.017,"dy":2.5e-8},
{"s":"h","x":2.064,"y":6.31e-8,"dx":0.018,"dy":2.2e-8},
{"s":"h","x":2.141,"y":5.61e-8,"dx":0.018,"dy":2e-8},
{"s":"h","x":2.235,"y":6.31e-8,"dx":0.02,"dy":2.2e-8},
{"s":"h","x":2.356,"y":3.47e-8,"dx":0.02,"dy":1.5e-8},
{"s":"h","x":2.46,"y":3.47e-8,"dx":0.021,"dy":1.5e-8},
{"s":"h","x":2.666,"y":1.7e-8,"dx":0.12,"dy":5e-9},
{"s":"h","x":2.935,"y":1.7e-8,"dx":0.13,"dy":5e-9},
{"s":"h","x":3.189,"y":1.918e-8,"dx":0.12,"dy":5e-9},
{"s":"h","x":3.437,"y":1.7e-8,"dx":0.1,"dy":5e-9},
{"s":"h","x":3.849,"y":7.38e-9,"dx":0.28,"dy":2.8e-9},
{"s":"h","x":4.563,"y":5.16e-9,"dx":0.43,"dy":2e-9},
{"s":"h","x":5.587,"y":3.39e-9,"dx":0.5,"dy":1.5e-9},
{"s":"i","x":0.335,"y":3.4e-8,"dx":0.022,"dy":9e-9},
{"s":"i","x":0.373,"y":4.97e-8,"dx":0.015,"dy":1.2e-8},
{"s":"i","x":0.404,"y":5.94e-8,"dx":0.012,"dy":1.3e-8},
{"s":"i","x":0.433,"y":6.16e-8,"dx":0.012,"dy":1.3e-8},
{"s":"i","x":0.464,"y":5.47e-8,"dx":0.012,"dy":1.2e-8},
{"s":"i","x":0.485,"y":8.5e-8,"dx":0.009,"dy":1.6e-8},
{"s":"i","x":0.508,"y":5.73e-8,"dx":0.009,"dy":1.2e-8},
{"s":"i","x":0.532,"y":9.26e-8,"dx":0.009,"dy":1.7e-8},
{"s":"i","x":0.553,"y":9.26e-8,"dx":0.009,"dy":1.7e-8},
{"s":"i","x":0.574,"y":9.26e-8,"dx":0.009,"dy":1.7e-8},
{"s":"i","x":0.589,"y":1.08e-7,"dx":0.008,"dy":1.8e-8},
{"s":"i","x":0.611,"y":8.2e-8,"dx":0.008,"dy":1.5e-8},
{"s":"i","x":0.632,"y":1.215e-7,"dx":0.008,"dy":2e-8},
{"s":"i","x":0.649,"y":1.893e-7,"dx":0.008,"dy":2.5e-8},
{"s":"i","x":0.667,"y":1.372e-7,"dx":0.008,"dy":2.2e-8},
{"s":"i","x":0.677,"y":1.372e-7,"dx":0.008,"dy":2.2e-8},
{"s":"i","x":0.691,"y":1.016e-7,"dx":0.008,"dy":1.8e-8},
{"s":"i","x":0.711,"y":1.215e-7,"dx":0.008,"dy":2e-8},
{"s":"i","x":0.725,"y":1.148e-7,"dx":0.008,"dy":2e-8},
{"s":"i","x":0.74,"y":1.641e-7,"dx":0.008,"dy":2.4e-8},
{"s":"i","x":0.753,"y":1.215e-7,"dx":0.008,"dy":2e-8},
{"s":"i","x":0.773,"y":1.677e-7,"dx":0.008,"dy":2.4e-8},
{"s":"i","x":0.798,"y":1.016e-7,"dx":0.008,"dy":1.8e-8},
{"s":"i","x":0.815,"y":1.8e-7,"dx":0.008,"dy":2.5e-8},
{"s":"i","x":0.838,"y":1.677e-7,"dx":0.008,"dy":2.4e-8},
{"s":"i","x":0.865,"y":1.453e-7,"dx":0.008,"dy":2.2e-8},
{"s":"i","x":0.893,"y":1.49e-7,"dx":0.008,"dy":2.2e-8},
{"s":"i","x":0.919,"y":1.49e-7,"dx":0.008,"dy":2.2e-8},
{"s":"i","x":0.958,"y":1.215e-7,"dx":0.008,"dy":2e-8},
{"s":"i","x":0.983,"y":9.03e-8,"dx":0.008,"dy":1.7e-8},
{"s":"i","x":1.004,"y":1.29e-7,"dx":0.008,"dy":2e-8},
{"s":"i","x":1.031,"y":1.215e-7,"dx":0.008,"dy":2e-8},
{"s":"i","x":1.059,"y":7.55e-8,"dx":0.009,"dy":1.5e-8},
{"s":"i","x":1.087,"y":6.31e-8,"dx":0.009,"dy":1.4e-8},
{"s":"i","x":1.117,"y":4.42e-8,"dx":0.009,"dy":1.1e-8},
{"s":"i","x":1.142,"y":6.31e-8,"dx":0.009,"dy":1.4e-8},
{"s":"i","x":1.166,"y":4.97e-8,"dx":0.01,"dy":1.2e-8},
{"s":"i","x":1.191,"y":5.94e-8,"dx":0.01,"dy":1.3e-8},
{"s":"i","x":1.225,"y":4.69e-8,"dx":0.01,"dy":1.1e-8},
{"s":"i","x":1.261,"y":3.28e-8,"dx":0.011,"dy":9e-9},
{"s":"i","x":1.302,"y":2.74e-8,"dx":0.011,"dy":8e-9},
{"s":"i","x":1.345,"y":3.47e-8,"dx":0.011,"dy":9e-9},
{"s":"i","x":1.388,"y":2.43e-8,"dx":0.012,"dy":7.5e-9},
{"s":"i","x":1.437,"y":2.29e-8,"dx":0.012,"dy":7e-9},
{"s":"i","x":1.48,"y":2.29e-8,"dx":0.012,"dy":7e-9},
{"s":"i","x":1.522,"y":3.92e-8,"dx":0.013,"dy":1e-8},
{"s":"i","x":1.572,"y":1.74e-8,"dx":0.013,"dy":6e-9},
{"s":"i","x":1.665,"y":8.3e-9,"dx":0.054,"dy":3.5e-9},
{"s":"i","x":1.759,"y":1.6e-8,"dx":0.015,"dy":5.5e-9},
{"s":"i","x":1.824,"y":2.58e-8,"dx":0.015,"dy":7.5e-9},
{"s":"i","x":1.884,"y":1.8e-8,"dx":0.016,"dy":6e-9},
{"s":"i","x":2.038,"y":4.47e-9,"dx":0.12,"dy":1.3e-9},
{"s":"i","x":2.293,"y":4.68e-9,"dx":0.12,"dy":1.4e-9},
{"s":"i","x":2.678,"y":1.87e-9,"dx":0.27,"dy":6e-10},
{"s":"i","x":9.58,"y":9.93e-9,"dx":0.4,"dy":5e-9}
],
"names":[
{"s":"a","n":"HD 283572","x":0.1506,"y":2.05},
{"s":"b","n":"V773 Tau","x":0.1506,"y":0.0622},
{"s":"c","n":"V410 Tau","x":0.1506,"y":0.01245},
{"s":"d","n":"SU Aur","x":0.1506,"y":9.12e-5},
{"s":"e","n":"HP Tau/G2","x":0.1506,"y":8.11e-6},
{"s":"f","n":"DH Tau","x":0.1506,"y":2.81e-6},
{"s":"g","n":"BP Tau","x":0.1506,"y":1.245e-6},
{"s":"h","n":"DN Tau","x":0.1506,"y":1.4e-7},
{"s":"i","n":"AB Aur","x":0.1506,"y":3.93e-8}
],
"lines":[
{"n":"O VIII","x":0.649,"t":17.5,"y1":12.2,"y2":9.67},
{"n":"Fe XVII","x":0.714,"t":25.0,"y1":16.7,"y2":12.6},
{"n":"Fe XVII","x":0.82,"t":25.0,"y1":16.7,"y2":12.6},
{"n":"Ne X","x":1.004,"t":31.8,"y1":18.6,"y2":14.6},
{"n":"Mg XI","x":1.339,"t":15.6,"y1":9.77,"y2":7.16},
{"n":"Mg XII","x":1.449,"t":15.6,"y1":9.77,"y2":7.16},
{"n":"Si XIII","x":1.833,"t":6.36,"y1":4.18,"y2":2.93},
{"n":"Si XIV","x":1.979,"t":6.36,"y1":4.18,"y2":2.93},
{"n":"S XV","x":2.432,"t":2.34,"y1":1.82,"y2":1.43},
{"n":"S XVI","x":2.594,"t":2.34,"y1":1.82,"y2":1.43},
{"n":"Fe XXV","x":6.557,"t":0.304,"y1":0.2,"y2":0.1485}
]
},
"resolve":{"axis":{"x":"independent","y":"independent"}},
"layer":[
{"data":{"name":"pts"},
"mark":{"type":"errorbar","thickness":1},
"encoding":{
"x":{"field":"x","type":"quantitative","scale":{"type":"log","domain":[0.12,10],"nice":false,"clamp":true},
"axis":{"orient":"bottom","values":[1,10],"labelExpr":"datum.value > 5 ? '10' : '1'","tickSize":-14,"labelPadding":22,"labelFontSize":15,"title":"Photon energy (keV)","titleFontSize":15,"titlePadding":1}},
"xError":{"field":"dx"},
"y":{"field":"y","type":"quantitative","scale":{"type":"log","domain":[1e-9,222],"nice":false,"clamp":true},
"axis":{"orient":"left","values":[100,1,0.01,0.0001,0.000001,0.00000001],"labelExpr":"datum.value > 10 ? '10²' : datum.value > 0.1 ? '10⁰' : datum.value > 0.001 ? '10⁻²' : datum.value > 0.00001 ? '10⁻⁴' : datum.value > 0.0000001 ? '10⁻⁶' : '10⁻⁸'","tickSize":-14,"labelPadding":17,"labelFontSize":16,"title":"count rate (cts s⁻¹keV⁻¹)","titleFontSize":12.5,"titlePadding":11}},
"color":{"field":"s","type":"nominal","scale":{"domain":["a","b","c","d","e","f","g","h","i"],"range":["#111111","#a8a8a8","#111111","#a8a8a8","#111111","#a8a8a8","#111111","#a8a8a8","#111111"]},"legend":null}}},
{"data":{"name":"pts"},
"mark":{"type":"errorbar","thickness":1},
"encoding":{
"x":{"field":"x","type":"quantitative","scale":{"type":"log","domain":[0.12,10],"nice":false,"clamp":true},
"axis":{"orient":"bottom","values":[0.2,0.3,0.4,0.5,0.6,0.7,0.8,0.9,2,3,4,5,6,7,8,9],"labels":false,"tickSize":-7,"domain":false,"title":null}},
"y":{"field":"y","type":"quantitative","scale":{"type":"log","domain":[1e-9,222],"nice":false,"clamp":true},
"axis":{"orient":"left","values":[10,0.1,0.001,0.00001,0.0000001],"labels":false,"tickSize":-7,"domain":false,"title":null}},
"yError":{"field":"dy"},
"color":{"field":"s","type":"nominal","legend":null}}},
{"data":{"name":"names"},
"mark":{"type":"text","align":"left","baseline":"middle","fontSize":14,"font":"Liberation Serif"},
"encoding":{
"x":{"field":"x","type":"quantitative","scale":{"type":"log","domain":[0.12,10],"nice":false,"clamp":true},
"axis":{"orient":"top","values":[1,10],"labels":false,"tickSize":-14,"title":null}},
"y":{"field":"y","type":"quantitative","scale":{"type":"log","domain":[1e-9,222],"nice":false,"clamp":true},
"axis":{"orient":"right","values":[100,1,0.01,0.0001,0.000001,0.00000001],"labels":false,"tickSize":-14,"title":null}},
"text":{"field":"n"},
"color":{"field":"s","type":"nominal","legend":null}}},
{"data":{"name":"lines"},
"mark":{"type":"text","align":"left","baseline":"middle","angle":270,"fontSize":12,"font":"Liberation Serif","color":"#000"},
"encoding":{
"x":{"field":"x","type":"quantitative","scale":{"type":"log","domain":[0.12,10],"nice":false,"clamp":true},
"axis":{"orient":"top","values":[0.2,0.3,0.4,0.5,0.6,0.7,0.8,0.9,2,3,4,5,6,7,8,9],"labels":false,"tickSize":-7,"domain":false,"title":null}},
"y":{"field":"t","type":"quantitative","scale":{"type":"log","domain":[1e-9,222],"nice":false,"clamp":true},
"axis":{"orient":"right","values":[10,0.1,0.001,0.00001,0.0000001],"labels":false,"tickSize":-7,"domain":false,"title":null}},
"text":{"field":"n"}}},
{"data":{"name":"lines"},
"mark":{"type":"rule","color":"#222","strokeWidth":1},
"encoding":{
"x":{"field":"x","type":"quantitative","axis":null},
"y":{"field":"y1","type":"quantitative","axis":null},
"y2":{"field":"y2"}}}
]
}
